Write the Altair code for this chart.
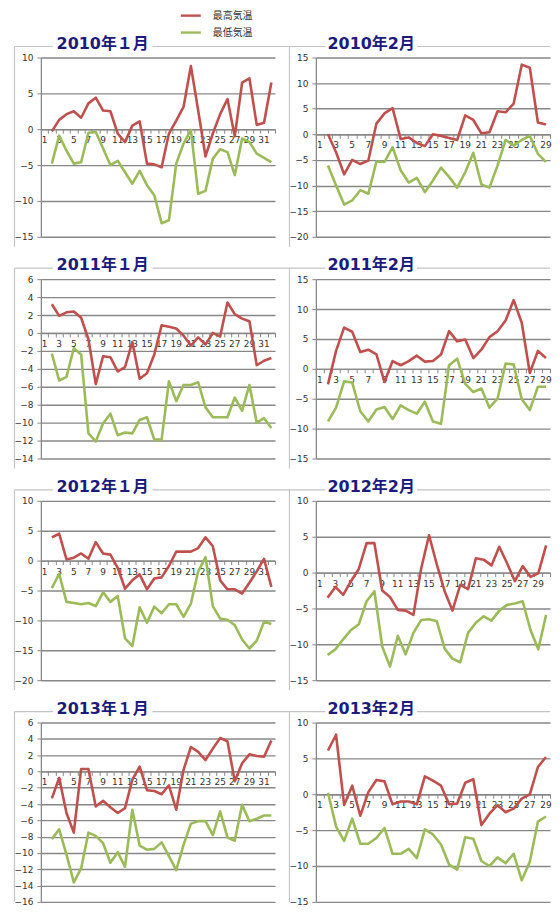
import altair as alt
import pandas as pd

# ---------------- data ----------------
titles = ["2010年１月", "2010年2月", "2011年１月", "2011年2月",
          "2012年１月", "2012年2月", "2013年１月", "2013年2月"]
n_cats = [32, 29, 32, 29, 32, 30, 32, 29]
y_min = [-15, -20, -14, -15, -20, -15, -16, -15]
y_max = [10, 15, 6, 15, 10, 10, 6, 10]
y_step = [5, 5, 2, 5, 5, 5, 2, 5]
series_names = ["最高気温", "最低気温"]

hi_2010_01 = [-0.3, 1.3, 2.1, 2.5, 1.6, 3.6, 4.4, 2.6, 2.5, -0.6, -1.8, 0.5, 1.1, -4.8, -4.9, -5.3,
              -0.6, 1.2, 3.1, 8.8, 2.6, -3.8, -0.6, 2.1, 4.2, -1.0, 6.5, 7.1, 0.6, 0.9, 6.5]
lo_2010_01 = [-4.8, -0.9, -3.0, -4.8, -4.6, -0.5, -0.4, -2.7, -5.0, -4.4, -6.0, -7.6, -5.8, -7.8, -9.2, -13.1,
              -12.7, -4.8, -2.0, -0.1, -9.0, -8.6, -4.1, -2.8, -3.2, -6.4, -1.3, -1.8, -3.4, -4.0, -4.6]
hi_2010_02 = [0.0, -3.5, -7.8, -5.0, -5.8, -5.1, 2.1, 4.1, 5.1, -0.9, -0.6, -1.7, -2.3, 0.0,
              -0.3, -0.7, -1.1, 3.7, 2.8, 0.2, 0.4, 4.5, 4.3, 6.0, 13.6, 13.0, 2.3, 1.9]
lo_2010_02 = [-6.1, -10.0, -13.7, -12.9, -10.9, -11.6, -5.3, -5.4, -2.5, -7.0, -9.4, -8.5, -11.3, -9.0,
              -6.5, -8.3, -10.4, -7.4, -3.6, -9.8, -10.4, -6.1, -1.1, -2.2, -1.1, -0.3, -3.8, -5.4]
hi_2011_01 = [3.2, 1.9, 2.3, 2.4, 1.7, -0.7, -5.7, -2.6, -2.7, -4.3, -3.8, -1.0, -5.1, -4.5, -2.4, 0.85,
              0.7, 0.5, -0.3, -1.4, -0.5, -1.3, 0.0, -0.4, 3.4, 2.1, 1.6, 1.3, -3.6, -3.1, -2.8]
lo_2011_01 = [-2.3, -5.3, -4.9, -1.7, -2.4, -11.2, -12.1, -10.1, -9.0, -11.4, -11.1, -11.2, -9.7, -9.4, -11.9, -11.9,
              -5.4, -7.6, -5.8, -5.8, -5.5, -8.3, -9.4, -9.4, -9.4, -7.2, -8.7, -5.8, -10.0, -9.5, -10.6]
hi_2011_02 = [-2.6, 3.0, 6.9, 6.2, 2.8, 3.2, 2.4, -2.2, 1.3, 0.6, 1.3, 2.2, 1.2, 1.3,
              2.4, 6.3, 4.6, 4.9, 1.8, 3.2, 5.3, 6.3, 8.1, 11.5, 7.7, -0.7, 3.0, 1.8]
lo_2011_02 = [-8.8, -6.5, -2.1, -2.3, -7.1, -8.8, -6.8, -6.4, -8.4, -6.1, -6.9, -7.5, -5.5, -8.8,
              -9.2, 0.6, 1.7, -2.5, -3.9, -3.3, -6.5, -5.0, 0.9, 0.7, -5.1, -6.9, -3.0, -3.0]
hi_2012_01 = [3.9, 4.5, 0.2, 0.5, 1.2, 0.3, 3.1, 1.2, 1.0, -1.2, -4.7, -3.3, -2.3, -4.8, -3.0, -2.8,
              -0.9, 1.5, 1.5, 1.5, 2.1, 3.9, 2.4, -3.3, -4.8, -4.8, -5.5, -3.7, -1.8, 0.3, -4.4]
lo_2012_01 = [-4.6, -2.2, -6.9, -7.1, -7.3, -7.1, -7.6, -5.3, -6.9, -5.9, -13.0, -14.3, -7.8, -10.4, -7.7, -8.8,
              -7.3, -7.3, -9.4, -7.2, -1.8, 0.6, -7.6, -9.7, -9.9, -10.8, -13.2, -14.7, -13.4, -10.2, -10.6]
hi_2012_02 = [-3.5, -2.0, -3.1, -1.2, 0.5, 4.1, 4.1, -2.5, -3.4, -5.2, -5.3, -5.9, 0.6, 5.2, 1.1,
              -2.6, -5.3, -1.7, -2.3, 2.0, 1.8, 1.0, 3.6, 1.3, -1.2, 0.9, -0.6, -0.1, 3.8]
lo_2012_02 = [-11.5, -10.7, -9.3, -8.0, -7.2, -4.0, -2.6, -10.3, -13.1, -8.8, -11.4, -8.4, -6.6, -6.5, -6.8,
              -10.6, -12.0, -12.5, -8.4, -7.0, -6.1, -6.7, -5.3, -4.5, -4.3, -4.0, -8.0, -10.7, -5.9]
hi_2013_01 = [-3.3, -0.8, -5.1, -7.5, 0.3, 0.3, -4.3, -3.6, -4.4, -5.1, -4.5, -1.0, 0.6, -2.3, -2.4, -2.8,
              -1.7, -4.7, 0.2, 3.0, 2.4, 1.4, 2.8, 4.1, 3.7, -1.2, 1.0, 2.1, 1.9, 1.8, 3.8]
lo_2013_01 = [-8.3, -7.1, -10.2, -13.6, -11.9, -7.5, -7.9, -8.8, -11.2, -9.9, -11.7, -4.7, -9.1, -9.6, -9.5, -8.7,
              -10.4, -12.1, -9.0, -6.4, -6.1, -6.1, -7.8, -4.9, -8.1, -8.5, -4.1, -6.1, -5.8, -5.4, -5.4]
hi_2013_02 = [6.1, 8.3, -1.5, 1.2, -3.0, 0.3, 2.0, 1.8, -1.4, -1.0, -1.0, -1.4, 2.5, 1.9,
              1.2, -1.4, -1.3, 1.6, 2.1, -4.3, -2.7, -1.5, -2.5, -2.0, -0.6, 0.0, 3.8, 5.2]
lo_2013_02 = [0.2, -4.5, -6.5, -3.4, -6.9, -6.9, -6.1, -4.7, -8.3, -8.3, -7.6, -8.9, -4.9, -5.6,
              -7.0, -9.8, -10.5, -6.0, -6.2, -9.3, -10.0, -8.8, -9.6, -8.3, -12.0, -9.4, -3.8, -3.1]

highs = [hi_2010_01, hi_2010_02, hi_2011_01, hi_2011_02, hi_2012_01, hi_2012_02, hi_2013_01, hi_2013_02]
lows = [lo_2010_01, lo_2010_02, lo_2011_01, lo_2011_02, lo_2012_01, lo_2012_02, lo_2013_01, lo_2013_02]

# ---------------- style ----------------
W, H = 235, 180
GRID = "#878787"
BOX = "#c4c4c4"
RED = "#C0504D"
GREEN = "#9BBB59"
NAVY = "#1B1B7E"
AXFONT = "DejaVu Sans"
TFONT = "DejaVu Sans, Noto Sans CJK JP"
LFONT = "Noto Sans CJK JP"

one = pd.DataFrame({"k": [0]})


def rule(x1, x2, y1, y2, color, width):
    return alt.Chart(one).mark_rule(color=color, strokeWidth=width).encode(
        x=alt.value(x1), x2=alt.value(x2), y=alt.value(y1), y2=alt.value(y2))


def panel(k):
    n = n_cats[k]
    hi, lo = highs[k], lows[k]
    df = pd.DataFrame({
        "cat": [d + 2 for d in range(len(hi))] + [d + 2 for d in range(len(lo))],
        "temp": hi + lo,
        "series": [series_names[0]] * len(hi) + [series_names[1]] * len(lo),
    })
    lab = pd.DataFrame({"cat": list(range(1, n + 1, 2))})
    lab["label"] = lab["cat"].astype(str)

    xscale = alt.Scale(domain=[0.5, n + 0.5], nice=False, zero=False)
    yscale = alt.Scale(domain=[y_min[k], y_max[k]], nice=False, zero=False)
    off = -H * (0 - y_min[k]) / (y_max[k] - y_min[k])

    xaxis = alt.Axis(values=[i + 0.5 for i in range(n + 1)], tickCount=200, labels=False,
                     ticks=True, tickSize=4, tickColor=GRID, tickWidth=1, grid=False,
                     domain=True, domainColor=GRID, domainWidth=1.3, title=None, offset=off)
    yaxis = alt.Axis(values=list(range(y_min[k], y_max[k] + 1, y_step[k])), tickCount=200,
                     format="d", grid=True, gridColor=GRID, gridWidth=1.4, domain=True,
                     domainColor=GRID, domainWidth=1.3, ticks=True, tickSize=4, tickColor=GRID,
                     labelFont=AXFONT, labelFontSize=9, labelColor="#333333",
                     labelPadding=4, labelOverlap=False, title=None)

    labels = alt.Chart(lab).mark_text(font=AXFONT, fontSize=9, color="#333333",
                                      baseline="middle", dy=11).encode(
        x=alt.X("cat:Q", scale=xscale, axis=xaxis),
        y=alt.datum(0, scale=yscale),
        text="label:N")

    lines = alt.Chart(df).mark_line(strokeWidth=2.6, strokeJoin="round").encode(
        x=alt.X("cat:Q", scale=xscale, axis=xaxis),
        y=alt.Y("temp:Q", scale=yscale, axis=yaxis),
        color=alt.Color("series:N", scale=alt.Scale(domain=series_names, range=[RED, GREEN]),
                        legend=None),
        detail="series:N")

    left_col = (k % 2 == 0)
    tc = 62 if left_col else 55.5
    gap = 50 if left_col else 46
    right_end = 250 if left_col else 235
    bottom = H + 10 if k < 6 else H
    top = -11

    deco = [
        rule(-26.5, -26.5, top, bottom, BOX, 1.2),
        rule(-26.5, tc - gap, top, top, BOX, 1.2),
        rule(tc + gap, right_end, top, top, BOX, 1.2),
    ]
    title = alt.Chart(pd.DataFrame({"t": [titles[k]]})).mark_text(
        font=TFONT, fontSize=16, fontWeight="bold", color=NAVY,
        align="center", baseline="middle").encode(
        x=alt.value(tc), y=alt.value(-14), text="t:N")

    layers = deco + [title, labels, lines]

    if k == 0:
        leg = pd.DataFrame({"name": series_names})
        layers += [
            rule(140.5, 160.5, -42, -42, RED, 2.4),
            rule(140.5, 160.5, -25, -25, GREEN, 2.4),
            alt.Chart(leg.iloc[[0]]).mark_text(font=LFONT, fontSize=10, color="#333333",
                                               align="left", baseline="middle").encode(
                x=alt.value(172.5), y=alt.value(-42), text="name:N"),
            alt.Chart(leg.iloc[[1]]).mark_text(font=LFONT, fontSize=10, color="#333333",
                                               align="left", baseline="middle").encode(
                x=alt.value(172.5), y=alt.value(-25), text="name:N"),
        ]

    return alt.layer(*layers).properties(width=W, height=H)


chart = alt.concat(*[panel(k) for k in range(8)], columns=2,
                   spacing={"row": 42.5, "column": 41}, bounds="flush").properties(
    padding={"left": 5, "top": 1, "right": 0, "bottom": 0}
).configure_view(stroke=None)

chart.save("out.html", embed_options={"renderer": "svg", "actions": False})
